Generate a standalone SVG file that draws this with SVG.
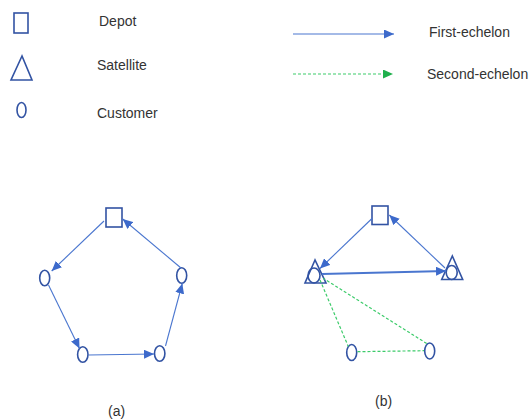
<svg xmlns="http://www.w3.org/2000/svg" width="530" height="420" viewBox="0 0 530 420">
  <style>
    .shape { fill: none; stroke: #3253A3; stroke-width: 1.6; }
    .txt { font-family: "Liberation Sans", Arial, sans-serif; font-size: 14px; fill: #333333; }
    .first { fill: none; stroke: #4A76CF; stroke-width: 1.1; }
    .second { fill: none; stroke: #3CCB6A; stroke-width: 1.2; stroke-dasharray: 3 2; }
  </style>
  <defs>
    <marker id="arrowBlue" markerUnits="userSpaceOnUse" markerWidth="11" markerHeight="9" refX="10" refY="4.5" orient="auto">
      <path d="M0,0 L10,4.5 L0,9 Z" fill="#3D6ACB"/>
    </marker>
    <marker id="arrowGreen" markerUnits="userSpaceOnUse" markerWidth="11" markerHeight="9" refX="10" refY="4.5" orient="auto">
      <path d="M0,0 L10,4.5 L0,9 Z" fill="#1FB04C"/>
    </marker>
  </defs>
  <rect width="530" height="420" fill="#ffffff"/>

  <!-- Legend -->
  <g id="legend-depot">
    <rect class="shape" x="14" y="13" width="14" height="20"/>
    <text class="txt" x="99" y="26">Depot</text>
  </g>
  <g id="legend-satellite">
    <polygon class="shape" points="22,56 11,80 32,80"/>
    <text class="txt" x="97" y="70">Satellite</text>
  </g>
  <g id="legend-customer">
    <ellipse class="shape" cx="21.5" cy="110" rx="4.5" ry="7.5"/>
    <text class="txt" x="97" y="118">Customer</text>
  </g>
  <g id="legend-first">
    <line class="first" x1="293" y1="34" x2="394" y2="34" marker-end="url(#arrowBlue)"/>
    <text class="txt" x="429" y="37">First-echelon</text>
  </g>
  <g id="legend-second">
    <line class="second" x1="293" y1="74" x2="393" y2="74" marker-end="url(#arrowGreen)"/>
    <text class="txt" x="427" y="79">Second-echelon</text>
  </g>

  <!-- Network (a) nodes -->
  <g id="a-depot"><rect class="shape" x="106" y="208" width="16" height="19"/></g>
  <g id="a-c1"><ellipse class="shape" cx="44.7" cy="278" rx="5" ry="7.8"/></g>
  <g id="a-c2"><ellipse class="shape" cx="82.8" cy="354.5" rx="5.2" ry="7.8"/></g>
  <g id="a-c3"><ellipse class="shape" cx="159.7" cy="353.5" rx="5.2" ry="7.8"/></g>
  <g id="a-c4"><ellipse class="shape" cx="181.7" cy="275.5" rx="5" ry="7.8"/></g>

  <!-- Network (b) nodes -->
  <g id="b-depot"><rect class="shape" x="372" y="206" width="16" height="18.5"/></g>
  <g id="b-s1">
    <polygon class="shape" points="315,260 305,283 326,283"/>
    <ellipse class="shape" cx="314" cy="275.5" rx="6" ry="7.5"/>
  </g>
  <g id="b-s2">
    <polygon class="shape" points="452.3,256 441.7,279.5 462.7,279.5"/>
    <ellipse class="shape" cx="451.7" cy="272.5" rx="5.5" ry="7"/>
  </g>
  <g id="b-c1"><ellipse class="shape" cx="351.7" cy="352.5" rx="5" ry="8"/></g>
  <g id="b-c2"><ellipse class="shape" cx="429.7" cy="351" rx="5" ry="8"/></g>

  <!-- Connectors -->
  <g id="connectors">
    <line class="first" x1="104" y1="221" x2="51.7" y2="271" marker-end="url(#arrowBlue)"/>
    <line class="first" x1="48.5" y1="285" x2="79.5" y2="348.5" marker-end="url(#arrowBlue)"/>
    <line class="first" x1="88.5" y1="355" x2="154" y2="354" marker-end="url(#arrowBlue)"/>
    <line class="first" x1="165.5" y1="346" x2="182.3" y2="283.5" marker-end="url(#arrowBlue)"/>
    <line class="first" x1="181" y1="268" x2="122.7" y2="219" marker-end="url(#arrowBlue)"/>

    <line class="first" x1="372" y1="218.5" x2="320" y2="268.5" marker-end="url(#arrowBlue)"/>
    <line class="first" style="stroke-width:2" x1="322" y1="274" x2="446" y2="271" marker-end="url(#arrowBlue)"/>
    <line class="first" x1="445" y1="268" x2="389.3" y2="215" marker-end="url(#arrowBlue)"/>

    <line class="second" x1="320" y1="280" x2="348.3" y2="346.5"/>
    <line class="second" x1="357.5" y1="351.7" x2="424" y2="350.7"/>
    <line class="second" x1="426.7" y1="343.5" x2="323.3" y2="278.3"/>
  </g>

  <!-- Captions -->
  <text class="txt" x="108" y="416">(a)</text>
  <text class="txt" x="375" y="406">(b)</text>
</svg>
